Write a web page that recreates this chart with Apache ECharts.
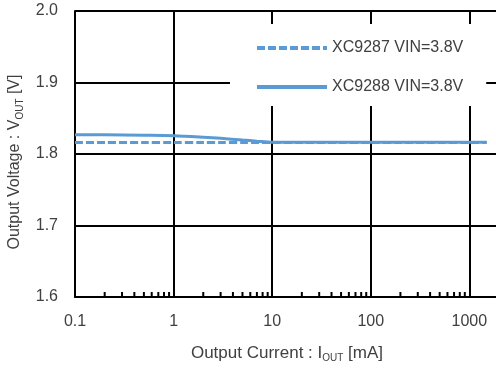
<!DOCTYPE html>
<html>
<head>
<meta charset="utf-8">
<script src="https://cdn.jsdelivr.net/npm/echarts@6/dist/echarts.min.js"></script>
<style>
  html, body { margin: 0; padding: 0; background: #fff; }
  #chart { width: 496px; height: 369px; }
</style>
</head>
<body>
<div id="chart"></div>
<script>
// output current [mA]
const currents = [0.1, 0.2, 0.5, 1, 2, 3, 5, 7, 10, 20, 50, 100, 200, 500, 1000, 1500]
// output voltage [V]
const vout9287 = [1.816, 1.816, 1.816, 1.816, 1.816, 1.816, 1.816, 1.816, 1.816, 1.816, 1.816, 1.816, 1.816, 1.816, 1.816, 1.816]
const vout9288 = [1.827, 1.8268, 1.8262, 1.8255, 1.8235, 1.822, 1.8195, 1.818, 1.8165, 1.8163, 1.8163, 1.8163, 1.8163, 1.8163, 1.8163, 1.8165]
const xLabels = ['0.1', '1', '10', '100', '1000']
const yLabels = ['1.6', '1.7', '1.8', '1.9', '2.0']
const minorTicks = [
  0.2, 0.3, 0.4, 0.5, 0.6, 0.7, 0.8, 0.9,
  2, 3, 4, 5, 6, 7, 8, 9,
  20, 30, 40, 50, 60, 70, 80, 90,
  200, 300, 400, 500, 600, 700, 800, 900
]

const textColor = '#404040'
const font = 'Liberation Sans, Arial, sans-serif'
const blue = '#5B9BD5'

const chart = echarts.init(document.getElementById('chart'))

const subRich = {
  sub: { fontSize: 10, fontFamily: font, color: textColor, verticalAlign: 'bottom', lineHeight: 10 }
}

chart.setOption({
  animation: false,
  grid: { left: 75, top: 11, right: -3, bottom: 72, containLabel: false, outerBoundsMode: 'none' },
  legend: {
    data: ['XC9287 VIN=3.8V', 'XC9288 VIN=3.8V'],
    orient: 'vertical',
    left: 230,
    top: 24,
    padding: [16, 23, 11, 25],
    itemGap: 23,
    itemWidth: 70,
    itemHeight: 14,
    backgroundColor: '#fff',
    itemStyle: { opacity: 0 },
    lineStyle: { width: 4 },
    textStyle: { fontSize: 16, fontFamily: font, color: textColor }
  },
  xAxis: {
    type: 'log',
    logBase: 10,
    min: 0.1,
    max: 2000,
    name: 'Output Current : I{sub|OUT} [mA]',
    nameLocation: 'middle',
    nameGap: 46,
    nameTextStyle: { fontSize: 17, fontFamily: font, color: textColor, lineHeight: 20, rich: subRich },
    axisLine: { onZero: false, lineStyle: { color: '#000', width: 2 } },
    axisTick: { show: false },
    axisLabel: {
      fontSize: 16, fontFamily: font, color: textColor, margin: 17,
      formatter: v => {
        const s = String(+(+v).toPrecision(6))
        return xLabels.includes(s) ? s : ''
      }
    },
    splitLine: { show: true, lineStyle: { color: '#000', width: 2 } }
  },
  yAxis: {
    type: 'value',
    min: 1.6,
    max: 2.0,
    interval: 0.1,
    name: 'Output Voltage : V{sub|OUT} [V]',
    nameLocation: 'middle',
    nameGap: 50,
    nameTextStyle: { fontSize: 16, fontFamily: font, color: textColor, lineHeight: 20, padding: [0, 16, 0, 0], rich: subRich },
    axisLine: { show: true, lineStyle: { color: '#000', width: 2 } },
    axisTick: { show: false },
    axisLabel: {
      fontSize: 16, fontFamily: font, color: textColor, margin: 17,
      formatter: v => {
        const s = (+v).toFixed(1)
        return yLabels.includes(s) ? s : ''
      }
    },
    splitLine: { show: true, lineStyle: { color: '#000', width: 2 } }
  },
  series: [
    {
      name: 'minor ticks',
      type: 'custom',
      silent: true,
      data: minorTicks.map(v => [v, 1.6]),
      renderItem: (params, api) => {
        const p = api.coord([api.value(0), api.value(1)])
        return {
          type: 'line',
          shape: { x1: p[0], y1: p[1], x2: p[0], y2: p[1] - 5 },
          style: { stroke: '#000', lineWidth: 2 }
        }
      }
    },
    {
      name: 'XC9287 VIN=3.8V',
      type: 'line',
      data: currents.map((c, i) => [c, vout9287[i]]),
      symbol: 'none',
      smooth: 0.3,
      lineStyle: { color: blue, width: 3, type: [8, 3] },
      itemStyle: { color: blue }
    },
    {
      name: 'XC9288 VIN=3.8V',
      type: 'line',
      data: currents.map((c, i) => [c, vout9288[i]]),
      symbol: 'none',
      smooth: 0.3,
      lineStyle: { color: blue, width: 3 },
      itemStyle: { color: blue }
    }
  ]
})
</script>
</body>
</html>
